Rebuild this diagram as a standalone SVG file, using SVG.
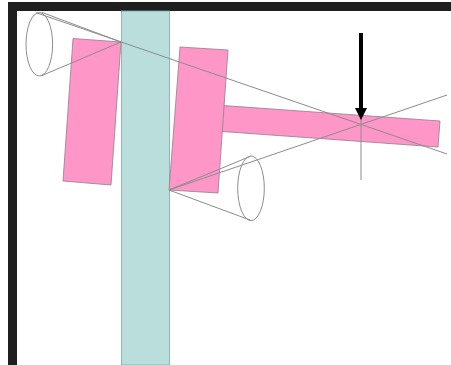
<svg xmlns="http://www.w3.org/2000/svg" width="451" height="365" viewBox="0 0 451 365">
  <style>
    .pink{fill:#ff96c8;stroke:#8f7f8a;stroke-width:.8}
    .thin{fill:none;stroke:#8c8c8c;stroke-width:1}
  </style>
  <rect width="451" height="365" fill="#fff"/>
  <g id="frame"><path d="M8 365V2H451V11H17V365Z" fill="#1f1f1f"/></g>
  <g id="column"><rect x="121.500" y="11" width="48" height="354" fill="#b9dedb" stroke="#7fa9a8" stroke-width=".8"/></g>
  <g id="pad-left"><polygon class="pink" points="73,38.500 121,42 111,185 63,181"/></g>
  <g id="beam"><polygon class="pink" points="223,105.500 440,121 438,147 222,131.500"/></g>
  <g id="pad-right"><polygon class="pink" points="180,47 228,50 218,193 169,190"/></g>
  <g id="cone-left"><ellipse class="thin" cx="39.300" cy="44.300" rx="13.300" ry="31.700"/></g>
  <g id="cone-right"><ellipse class="thin" cx="251" cy="188.300" rx="13.300" ry="32.300"/></g>
  <g id="connectors">
    <path class="thin" d="M121 42L41.700 12.300M121 42L42 75.500M36 12.700L447 154"/>
    <path class="thin" d="M169 190L250 156.500M169 190L447 95M169 190L250 220"/>
    <path class="thin" d="M361 113V180"/>
  </g>
  <g id="load-arrow">
    <rect x="359" y="33" width="4" height="76" fill="#000"/>
    <polygon points="355,108 367,108 361,120" fill="#000"/>
  </g>
</svg>
